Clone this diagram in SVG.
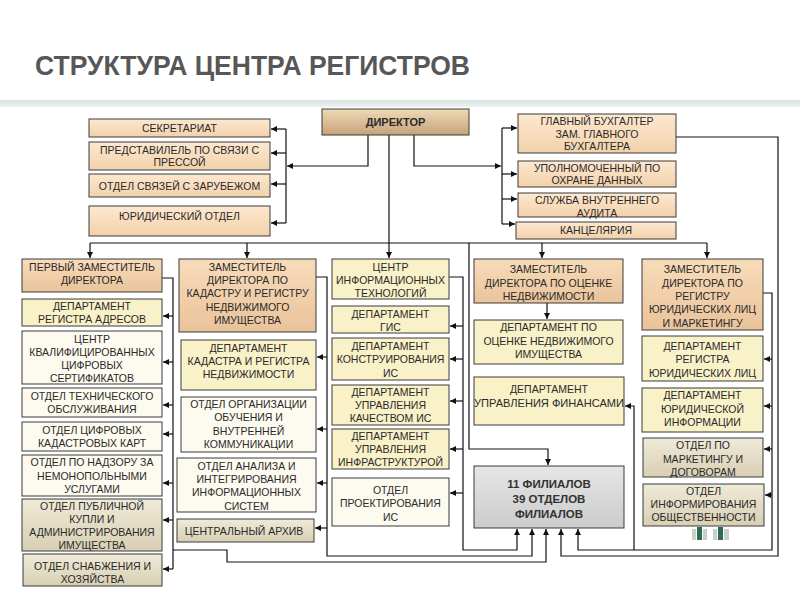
<svg xmlns="http://www.w3.org/2000/svg" width="800" height="600" viewBox="0 0 800 600">
<defs>
<linearGradient id="gStaff" x1="0" y1="0" x2="0" y2="1"><stop offset="0" stop-color="#fde8cf"/><stop offset="1" stop-color="#f2d1ab"/></linearGradient>
<linearGradient id="gDir" x1="0" y1="0" x2="0" y2="1"><stop offset="0" stop-color="#efdab6"/><stop offset="1" stop-color="#c6a27a"/></linearGradient>
<linearGradient id="gZam" x1="0" y1="0" x2="0" y2="1"><stop offset="0" stop-color="#f8dcba"/><stop offset="1" stop-color="#e9c39a"/></linearGradient>
<linearGradient id="gGray" x1="0" y1="0" x2="0" y2="1"><stop offset="0" stop-color="#efead8"/><stop offset="1" stop-color="#d8cfb3"/></linearGradient>
<linearGradient id="gFil" x1="0" y1="0" x2="0" y2="1"><stop offset="0" stop-color="#e6e6e6"/><stop offset="1" stop-color="#cbcbcb"/></linearGradient>
<linearGradient id="gBand" x1="0" y1="0" x2="0" y2="1"><stop offset="0" stop-color="#d6e2df"/><stop offset="1" stop-color="#eef3f2"/></linearGradient>
<marker id="arr" viewBox="0 0 6 6" refX="6" refY="3" markerWidth="6" markerHeight="6" markerUnits="userSpaceOnUse" orient="auto"><path d="M0,0 L6,3 L0,6 z" fill="#111"/></marker>
</defs>
<style>
.b{stroke:#3a3a3a;stroke-width:1}
.staff{fill:url(#gStaff)}
.zam{fill:url(#gZam)}
.yel{fill:#f9f1c8}
.cr{fill:#fdfaf0}
.gr{fill:url(#gGray)}
text{font-family:"Liberation Sans",Arial,sans-serif;font-size:10.5px;fill:#2a2a2a;text-anchor:middle}
.bold{font-weight:bold}
.c{fill:none;stroke:#111;stroke-width:1.2}
.a{marker-end:url(#arr)}
</style>
<rect width="800" height="600" fill="#ffffff"/>
<rect x="0" y="100" width="800" height="7" fill="url(#gBand)"/>
<text x="35" y="75" style="font-size:28px;font-weight:bold;fill:#575757;text-anchor:start" textLength="435" lengthAdjust="spacingAndGlyphs">СТРУКТУРА ЦЕНТРА РЕГИСТРОВ</text>

<g id="connectors">
<path class="c a" d="M368 135 V166 H287"/>
<path class="c" d="M286 129 V223"/>
<path class="c a" d="M286 129 H271"/>
<path class="c a" d="M286 153 H271"/>
<path class="c a" d="M286 184 H271"/>
<path class="c a" d="M286 223 H271"/>
<path class="c a" d="M414 135 V166 H501"/>
<path class="c" d="M502 128 V224"/>
<path class="c a" d="M502 128 H517"/>
<path class="c a" d="M502 174 H517"/>
<path class="c a" d="M502 199 H517"/>
<path class="c a" d="M502 224 H515"/>
<path class="c a" d="M389 135 V258"/>
<path class="c" d="M90 243 H707"/>
<path class="c a" d="M90 243 V258"/>
<path class="c a" d="M247 243 V258"/>
<path class="c a" d="M542 243 V258"/>
<path class="c a" d="M707 243 V258"/>
<path class="c a" d="M469 243 V449 H548 V465"/>
<path class="c" d="M162 278 H173 V569"/>
<path class="c a" d="M173 316 H163"/>
<path class="c a" d="M173 362 H163"/>
<path class="c a" d="M173 405 H163"/>
<path class="c a" d="M173 434 H163"/>
<path class="c a" d="M173 483 H163"/>
<path class="c a" d="M173 520 H163"/>
<path class="c a" d="M173 569 H163"/>
<path class="c a" d="M173 550 H227 V562 H546 V529"/>
<path class="c a" d="M316 277 H327 V556 H532 V529"/>
<path class="c a" d="M327 357 H317"/>
<path class="c a" d="M327 429 H317"/>
<path class="c a" d="M327 483 H317"/>
<path class="c a" d="M327 528 H315"/>
<path class="c a" d="M449 277 H463 V550 H517 V529"/>
<path class="c a" d="M463 326 H450"/>
<path class="c a" d="M463 359 H450"/>
<path class="c a" d="M463 401 H450"/>
<path class="c a" d="M463 449 H450"/>
<path class="c a" d="M463 493 H450"/>
<path class="c a" d="M547 303 V319"/>
<path class="c a" d="M634 550 V406 H625"/>
<path class="c a" d="M763 293 H772 V550 H578 V529"/>
<path class="c a" d="M772 359 H764"/>
<path class="c a" d="M772 406 H764"/>
<path class="c a" d="M772 449 H764"/>
<path class="c a" d="M772 495 H765"/>
<path class="c a" d="M676 137 H778 V556 H561 V529"/>
</g>

<g id="director"><rect class="b" x="322" y="109" width="147" height="26" fill="url(#gDir)" stroke="#555"/><text class="bold" x="395.5" y="126" style="font-size:11px">ДИРЕКТОР</text></g>

<g id="sekretariat"><rect class="b staff" x="89" y="119" width="181" height="18"/><text x="179.5" y="132">СЕКРЕТАРИАТ</text></g>
<g id="press"><rect class="b staff" x="89" y="142" width="181" height="28"/><text x="179.5" y="154">ПРЕДСТАВИЛЕЛЬ ПО СВЯЗИ С</text><text x="179.5" y="166">ПРЕССОЙ</text></g>
<g id="zarubezh"><rect class="b staff" x="89" y="174" width="181" height="23"/><text x="179.5" y="189.5">ОТДЕЛ СВЯЗЕЙ С ЗАРУБЕЖОМ</text></g>
<g id="yurid"><rect class="b staff" x="89" y="206" width="181" height="30"/><text x="179.5" y="220">ЮРИДИЧЕСКИЙ ОТДЕЛ</text></g>

<g id="glavbuh"><rect class="b staff" x="518" y="114" width="158" height="39"/><text x="597" y="125">ГЛАВНЫЙ БУХГАЛТЕР</text><text x="597" y="137.5">ЗАМ. ГЛАВНОГО</text><text x="597" y="150">БУХГАЛТЕРА</text></g>
<g id="upoln"><rect class="b staff" x="518" y="161" width="158" height="26"/><text x="597" y="171.5">УПОЛНОМОЧЕННЫЙ ПО</text><text x="597" y="184">ОХРАНЕ ДАННЫХ</text></g>
<g id="audit"><rect class="b staff" x="518" y="193" width="158" height="24"/><text x="597" y="204">СЛУЖБА ВНУТРЕННЕГО</text><text x="597" y="216.5">АУДИТА</text></g>
<g id="kanc"><rect class="b staff" x="516" y="222" width="160" height="17"/><text x="596" y="234">КАНЦЕЛЯРИЯ</text></g>

<g id="perviy"><rect class="b zam" x="22" y="259" width="140" height="33"/><text x="92" y="271">ПЕРВЫЙ ЗАМЕСТИТЕЛЬ</text><text x="92" y="284">ДИРЕКТОРА</text></g>
<g id="adres"><rect class="b yel" x="22" y="299" width="140" height="27"/><text x="92" y="310">ДЕПАРТАМЕНТ</text><text x="92" y="323">РЕГИСТРА АДРЕСОВ</text></g>
<g id="sert"><rect class="b cr" x="22" y="331" width="140" height="53"/><text x="92" y="343">ЦЕНТР</text><text x="92" y="356">КВАЛИФИЦИРОВАННЫХ</text><text x="92" y="369">ЦИФРОВЫХ</text><text x="92" y="382">СЕРТИФИКАТОВ</text></g>
<g id="tehobsl"><rect class="b cr" x="22" y="388" width="140" height="29"/><text x="92" y="400">ОТДЕЛ ТЕХНИЧЕСКОГО</text><text x="92" y="413">ОБСЛУЖИВАНИЯ</text></g>
<g id="cifrkart"><rect class="b cr" x="22" y="422" width="140" height="29"/><text x="92" y="434">ОТДЕЛ ЦИФРОВЫХ</text><text x="92" y="447">КАДАСТРОВЫХ КАРТ</text></g>
<g id="nadzor"><rect class="b cr" x="22" y="455" width="140" height="41"/><text x="92" y="466">ОТДЕЛ ПО НАДЗОРУ ЗА</text><text x="92" y="480">НЕМОНОПОЛЬНЫМИ</text><text x="92" y="493">УСЛУГАМИ</text></g>
<g id="kupli"><rect class="b gr" x="22" y="499" width="140" height="52"/><text x="92" y="510">ОТДЕЛ ПУБЛИЧНОЙ</text><text x="92" y="523">КУПЛИ И</text><text x="92" y="536">АДМИНИСТРИРОВАНИЯ</text><text x="92" y="549">ИМУЩЕСТВА</text></g>
<g id="snab"><rect class="b gr" x="23" y="554" width="139" height="32"/><text x="92.5" y="570">ОТДЕЛ СНАБЖЕНИЯ И</text><text x="92.5" y="583">ХОЗЯЙСТВА</text></g>

<g id="zamkad"><rect class="b zam" x="179" y="259" width="137" height="73"/><text x="247.5" y="271">ЗАМЕСТИТЕЛЬ</text><text x="247.5" y="284">ДИРЕКТОРА ПО</text><text x="247.5" y="297">КАДАСТРУ И РЕГИСТРУ</text><text x="247.5" y="311">НЕДВИЖИМОГО</text><text x="247.5" y="324">ИМУЩЕСТВА</text></g>
<g id="kadreg"><rect class="b yel" x="181" y="340" width="135" height="50"/><text x="248.5" y="352">ДЕПАРТАМЕНТ</text><text x="248.5" y="365">КАДАСТРА И РЕГИСТРА</text><text x="248.5" y="378">НЕДВИЖИМОСТИ</text></g>
<g id="obuch"><rect class="b cr" x="181" y="397" width="135" height="55"/><text x="248.5" y="408">ОТДЕЛ ОРГАНИЗАЦИИ</text><text x="248.5" y="421">ОБУЧЕНИЯ И</text><text x="248.5" y="435">ВНУТРЕННЕЙ</text><text x="248.5" y="448">КОММУНИКАЦИИ</text></g>
<g id="analiz"><rect class="b cr" x="177" y="458" width="139" height="54"/><text x="246.5" y="470">ОТДЕЛ АНАЛИЗА И</text><text x="246.5" y="483">ИНТЕГРИРОВАНИЯ</text><text x="246.5" y="496">ИНФОРМАЦИОННЫХ</text><text x="246.5" y="510">СИСТЕМ</text></g>
<g id="arhiv"><rect class="b gr" x="177" y="519" width="137" height="23"/><text x="244" y="535">ЦЕНТРАЛЬНЫЙ АРХИВ</text></g>

<g id="cit"><rect class="b yel" x="332" y="259" width="117" height="40"/><text x="390.5" y="271">ЦЕНТР</text><text x="390.5" y="284">ИНФОРМАЦИОННЫХ</text><text x="390.5" y="297">ТЕХНОЛОГИЙ</text></g>
<g id="gis"><rect class="b yel" x="332" y="306" width="117" height="27"/><text x="390.5" y="318">ДЕПАРТАМЕНТ</text><text x="390.5" y="331">ГИС</text></g>
<g id="konstr"><rect class="b yel" x="332" y="338" width="117" height="42"/><text x="390.5" y="350">ДЕПАРТАМЕНТ</text><text x="390.5" y="363">КОНСТРУИРОВАНИЯ</text><text x="390.5" y="377">ИС</text></g>
<g id="kach"><rect class="b yel" x="332" y="385" width="117" height="40"/><text x="390.5" y="396">ДЕПАРТАМЕНТ</text><text x="390.5" y="409">УПРАВЛЕНИЯ</text><text x="390.5" y="422">КАЧЕСТВОМ ИС</text></g>
<g id="infra"><rect class="b yel" x="332" y="429" width="117" height="40"/><text x="390.5" y="440">ДЕПАРТАМЕНТ</text><text x="390.5" y="453">УПРАВЛЕНИЯ</text><text x="390.5" y="466">ИНФРАСТРУКТУРОЙ</text></g>
<g id="proekt"><rect class="b cr" x="332" y="478" width="117" height="48"/><text x="390.5" y="494">ОТДЕЛ</text><text x="390.5" y="507">ПРОЕКТИРОВАНИЯ</text><text x="390.5" y="521">ИС</text></g>

<g id="zamocen"><rect class="b zam" x="474" y="259" width="149" height="44"/><text x="548.5" y="273">ЗАМЕСТИТЕЛЬ</text><text x="548.5" y="287">ДИРЕКТОРА ПО ОЦЕНКЕ</text><text x="548.5" y="300">НЕДВИЖИМОСТИ</text></g>
<g id="ocenka"><rect class="b yel" x="474" y="320" width="149" height="44"/><text x="548.5" y="331">ДЕПАРТАМЕНТ ПО</text><text x="548.5" y="345">ОЦЕНКЕ НЕДВИЖИМОГО</text><text x="548.5" y="358">ИМУЩЕСТВА</text></g>
<g id="finans"><rect class="b yel" x="474" y="377" width="150" height="48"/><text x="549" y="393">ДЕПАРТАМЕНТ</text><text x="549" y="407" textLength="150" lengthAdjust="spacingAndGlyphs">УПРАВЛЕНИЯ ФИНАНСАМИ</text></g>
<g id="filialy"><rect class="b" x="474" y="466" width="150" height="62" fill="url(#gFil)" stroke="#555"/><text class="bold" x="549" y="488" style="font-size:11.5px;fill:#333">11 ФИЛИАЛОВ</text><text class="bold" x="549" y="503" style="font-size:11.5px;fill:#333">39 ОТДЕЛОВ</text><text class="bold" x="549" y="518" style="font-size:11.5px;fill:#333">ФИЛИАЛОВ</text></g>

<g id="zamyur"><rect class="b zam" x="642" y="259" width="121" height="71"/><text x="702.5" y="273">ЗАМЕСТИТЕЛЬ</text><text x="702.5" y="287">ДИРЕКТОРА  ПО</text><text x="702.5" y="300">РЕГИСТРУ</text><text x="702.5" y="313">ЮРИДИЧЕСКИХ ЛИЦ</text><text x="702.5" y="327">И МАРКЕТИНГУ</text></g>
<g id="regyur"><rect class="b yel" x="642" y="336" width="121" height="45"/><text x="702.5" y="350">ДЕПАРТАМЕНТ</text><text x="702.5" y="363">РЕГИСТРА</text><text x="702.5" y="377">ЮРИДИЧЕСКИХ ЛИЦ</text></g>
<g id="yurinf"><rect class="b yel" x="642" y="388" width="121" height="44"/><text x="702.5" y="399">ДЕПАРТАМЕНТ</text><text x="702.5" y="413">ЮРИДИЧЕСКОЙ</text><text x="702.5" y="426">ИНФОРМАЦИИ</text></g>
<g id="marketing"><rect class="b gr" x="643" y="438" width="120" height="39"/><text x="703" y="449">ОТДЕЛ ПО</text><text x="703" y="463">МАРКЕТИНГУ И</text><text x="703" y="476">ДОГОВОРАМ</text></g>
<g id="informir"><rect class="b gr" x="643" y="484" width="121" height="42"/><text x="703.5" y="495">ОТДЕЛ</text><text x="703.5" y="508">ИНФОРМИРОВАНИЯ</text><text x="703.5" y="521">ОБЩЕСТВЕННОСТИ</text></g>

<g id="logo">
<rect x="692" y="529" width="4" height="11" fill="#c9cfcc"/>
<rect x="697" y="527" width="5" height="13" fill="#2e6b4f"/>
<rect x="703" y="529" width="4" height="11" fill="#c9cfcc"/>
<rect x="713" y="529" width="4" height="11" fill="#c9cfcc"/>
<rect x="718" y="527" width="5" height="13" fill="#2e6b4f"/>
<rect x="724" y="529" width="5" height="11" fill="#c9cfcc"/>
</g>
</svg>
